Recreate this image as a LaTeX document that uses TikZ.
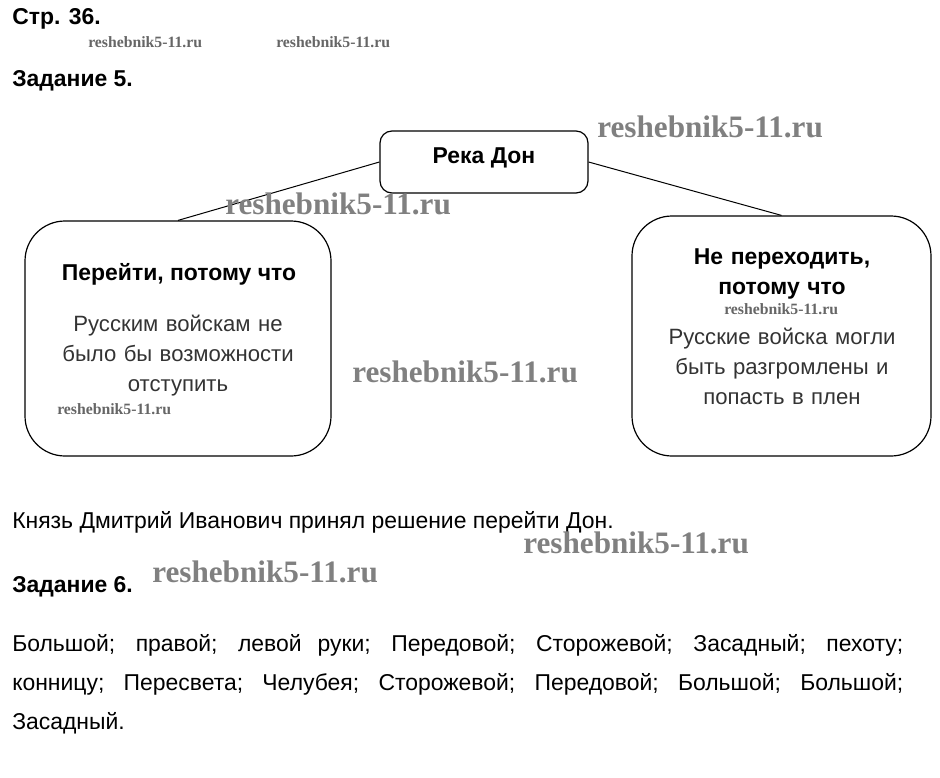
\documentclass[tikz,border=0pt]{standalone}
\usepackage{fontspec}
\setmainfont{Liberation Sans}
\newfontfamily\wmfont{Liberation Serif}
\usetikzlibrary{positioning}

\begin{document}
\begin{tikzpicture}[x=0.75pt,y=-0.75pt,
	txt/.style={inner sep=0pt, font=\fontsize{17.2}{22.5}\selectfont},
	boxtxt/.style={inner sep=0pt, text=black!80, font=\fontsize{16.6}{22.5}\selectfont},
	hdr/.style={inner sep=0pt, font=\fontsize{17.2}{22.5}\selectfont\bfseries},
	box/.style={draw, line width=0.9pt, inner sep=0pt},
	wmbig/.style={inner sep=0pt, text=black!50, font=\wmfont\fontsize{23.4}{24}\selectfont\bfseries},
	wmsmall/.style={inner sep=0pt, text=black!60, font=\wmfont\fontsize{11.8}{12}\selectfont\bfseries}]
	\useasboundingbox (0,0) rectangle (940,778);

	% headings
	\node[hdr, anchor=base west] (str) at (12,25) {Стр. 36.};
	\node[hdr, anchor=base west] (zad5) at (12,86) {Задание 5.};

	% boxes
	\node[box, rounded corners=9pt, minimum width=156pt, minimum height=46.5pt] (don) at (484,162) {};
	\node[box, rounded corners=30pt, minimum width=229.5pt, minimum height=176.25pt] (pereiti) at (178,338.5) {};
	\node[box, rounded corners=30pt, minimum width=224.25pt, minimum height=180pt] (neper) at (781.5,336) {};

	\draw[line width=0.75pt] (don.west) -- (pereiti.north);
	\draw[line width=0.75pt] (don.east) -- (neper.north);

	% texts in boxes
	\node[hdr, anchor=base] (dontxt) at (484,163) {Река Дон};
	\node[hdr, anchor=base] (pereitihdr) at (179,280) {Перейти, потому что};
	\node[boxtxt, anchor=base, text width=225pt, align=center] (pereititxt) at (178,331)
		{Русским войскам не\\было бы возможности\\отступить};
	\node[hdr, anchor=base, text width=220pt, align=center] (neperhdr) at (782,264)
		{Не переходить,\\потому что};
	\node[boxtxt, anchor=base, text width=220pt, align=center] (nepertxt) at (782,344)
		{Русские войска могли\\быть разгромлены и\\попасть в плен};

	% answers
	\node[txt, anchor=base west] (knyaz) at (12,528) {Князь Дмитрий Иванович принял решение перейти Дон.};
	\node[hdr, anchor=base west] (zad6) at (12,592) {Задание 6.};
	\node[txt, anchor=base west, text width=668.25pt, align=justify,
		font=\fontsize{17.2}{29.25}\selectfont] (otvet) at (12,651)
		{Большой; правой; левой руки; Передовой; Сторожевой; Засадный; пехоту;\linebreak
		конницу; Пересвета; Челубея; Сторожевой; Передовой; Большой; Большой;\linebreak
		Засадный.};

	% watermarks
	\node[wmsmall, anchor=base west] (wm1) at (88,47) {reshebnik5-11.ru};
	\node[wmsmall, anchor=base west] (wm2) at (276,47) {reshebnik5-11.ru};
	\node[wmbig, anchor=base west] (wm3) at (597,137) {reshebnik5-11.ru};
	\node[wmbig, anchor=base west] (wm4) at (225,214) {reshebnik5-11.ru};
	\node[wmsmall, anchor=base west] (wm5) at (724,314) {reshebnik5-11.ru};
	\node[wmbig, anchor=base west] (wm6) at (352,382) {reshebnik5-11.ru};
	\node[wmsmall, anchor=base west] (wm7) at (57,414) {reshebnik5-11.ru};
	\node[wmbig, anchor=base west] (wm8) at (523,553) {reshebnik5-11.ru};
	\node[wmbig, anchor=base west] (wm9) at (152,582) {reshebnik5-11.ru};
\end{tikzpicture}
\end{document}
